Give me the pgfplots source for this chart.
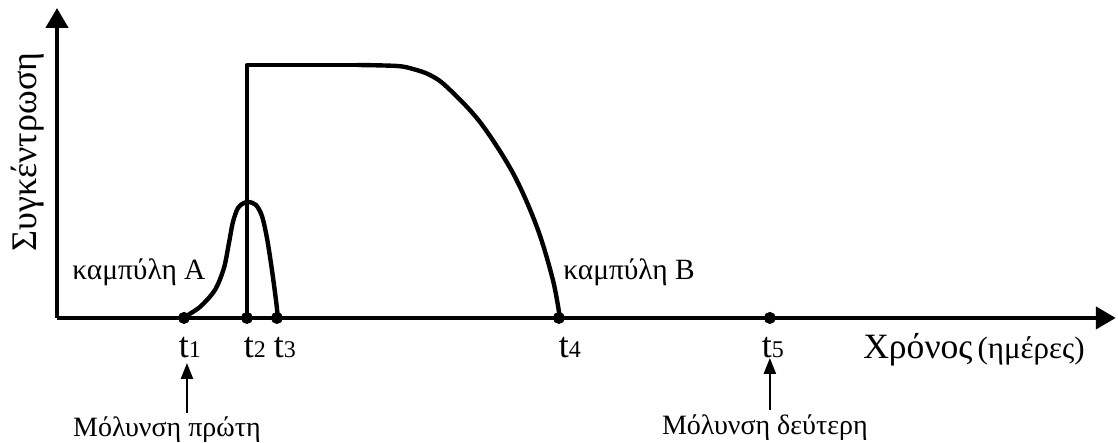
\documentclass[border=0pt]{standalone}
\usepackage{fontspec}
\setmainfont{Liberation Serif}
\usepackage{pgfplots}
\pgfplotsset{compat=1.18}
\usetikzlibrary{arrows.meta}

\newcommand{\tlab}[1]{t{\fontsize{12}{14}\selectfont #1}}
\tikzset{tl/.style={anchor=base, inner sep=0pt, font=\fontsize{18}{21}\selectfont}}

\begin{document}
\begin{tikzpicture}
\begin{axis}[
    scale only axis,
    width=529.5pt, height=155pt,
    xmin=0, xmax=1059,
    ymin=0, ymax=310,
    axis lines=left,
    ticks=none,
    axis line style={line width=2.2pt, -{Triangle[length=10pt,width=11pt]}},
    clip=false,
]
% curve A
\addplot[black, line width=2.2pt, smooth, tension=0.5] coordinates {
    (126,0) (143,11) (158,28) (167,50) (172,75) (176,96) (181,110) (187,115)
    (192,116) (199,113) (205,102) (210,80) (215,48) (219,18) (221,0)
};
% curve B
\addplot[black, line width=2.2pt, line join=round] coordinates {(190,0) (190,253) (300,253)};
\addplot[black, line width=2.2pt, smooth, tension=0.55] coordinates {
    (300,253) (340,252) (356,249) (373,243) (390,231) (423,196)
    (456,145) (480,91) (496,38) (503,0)
};
% time points
\addplot[black, only marks, mark=*, mark size=2.8pt] coordinates {
    (127,0) (190,0) (220,0) (502,0) (713,0)
};

\path (axis cs:-57,-121) rectangle (axis cs:1061,318);

\node[rotate=90, font=\fontsize{18}{21}\selectfont] at (axis cs:-29,166) {Συγκέντρωση};
\node[anchor=west, inner sep=0pt] at (axis cs:806,-32)
    {{\fontsize{17.8}{21}\selectfont Χρόνος} {\fontsize{15.5}{18}\selectfont (ημέρες)}};

\node[anchor=west, inner sep=0pt, font=\fontsize{14.7}{17}\selectfont] at (axis cs:15,46) {καμπύλη Α};
\node[anchor=west, inner sep=0pt, font=\fontsize{14.7}{17}\selectfont] at (axis cs:506,46) {καμπύλη Β};

\node[tl] at (axis cs:133,-40) {\tlab{1}};
\node[tl] at (axis cs:198,-40) {\tlab{2}};
\node[tl] at (axis cs:228,-40) {\tlab{3}};
\node[tl] at (axis cs:513,-40) {\tlab{4}};
\node[tl] at (axis cs:716,-40) {\tlab{5}};

\draw[line width=1.1pt, -{Triangle[length=8pt,width=6pt]}] (axis cs:130,-95) -- (axis cs:130,-45);
\draw[line width=1.1pt, -{Triangle[length=8pt,width=6pt]}] (axis cs:713,-92) -- (axis cs:713,-40);

\node[inner sep=0pt, font=\fontsize{14}{17}\selectfont] at (axis cs:110,-112) {Μόλυνση πρώτη};
\node[inner sep=0pt, font=\fontsize{14}{17}\selectfont] at (axis cs:708,-110) {Μόλυνση δεύτερη};
\end{axis}
\end{tikzpicture}
\end{document}
